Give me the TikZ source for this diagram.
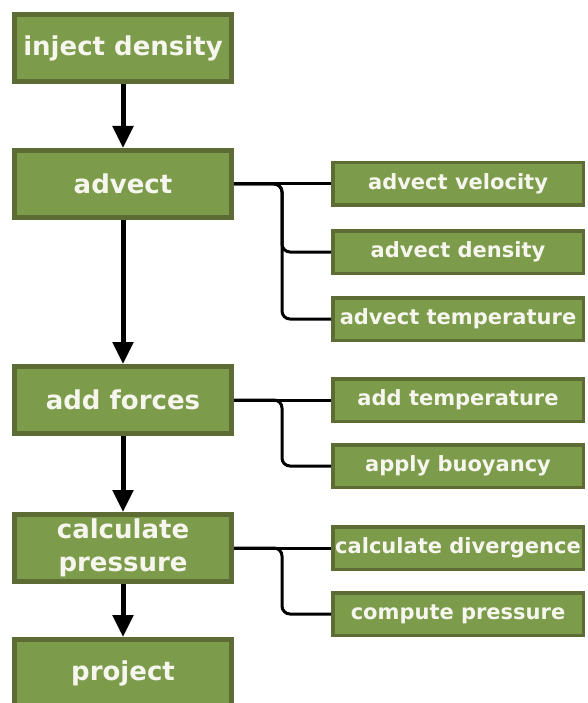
\documentclass[tikz,border=0pt]{standalone}
\usepackage{fontspec}
\setsansfont{DejaVu Sans}
\usetikzlibrary{arrows.meta,positioning}
\definecolor{boxfill}{RGB}{124,156,76}
\definecolor{boxedge}{RGB}{92,108,52}
\definecolor{boxtext}{RGB}{246,246,238}

\begin{document}
\begin{tikzpicture}[x=1pt, y=1pt,
    mainbox/.style={rectangle, draw=boxedge, line width=5pt, fill=boxfill, text=boxtext, minimum width=217pt, minimum height=67pt, align=center, inner sep=0pt, font=\sffamily\bfseries\fontsize{26}{33}\selectfont},
    subbox/.style={rectangle, draw=boxedge, line width=3.5pt, fill=boxfill, text=boxtext, minimum width=250.5pt, minimum height=42.5pt, inner sep=0pt, font=\sffamily\bfseries\fontsize{21}{25}\selectfont},
    flow/.style={-{Triangle[width=20pt,length=22pt]}, line width=5pt},
    link/.style={line width=3pt, rounded corners=8pt}
]
    \useasboundingbox (0,0) rectangle (588,-703);
    \clip (0,0) rectangle (588,-703);

    % ============ Main steps ============
    \node[mainbox] (inject) at (123,-48) {inject density};
    \node[mainbox] (advect) at (123,-184) {advect};
    \node[mainbox] (forces) at (123,-400) {add forces};
    \node[mainbox] (pressure) at (123,-548) {calculate\\pressure};
    \node[mainbox] (project) at (123,-673) {project};

    % ============ Sub steps ============
    \node[subbox] (advvel) at (458,-184) {advect velocity};
    \node[subbox] (advdens) at (458,-252) {advect density};
    \node[subbox] (advtemp) at (458,-319) {advect temperature};
    \node[subbox] (addtemp) at (458,-400) {add temperature};
    \node[subbox] (buoy) at (458,-466) {apply buoyancy};
    \node[subbox] (diverg) at (458,-548) {calculate divergence};
    \node[subbox] (solve) at (458,-614) {compute pressure};

    % ============ Flow ============
    \draw[flow] (inject.south) -- (advect.north);
    \draw[flow] (advect.south) -- (forces.north);
    \draw[flow] (forces.south) -- (pressure.north);
    \draw[flow] (pressure.south) -- (project.north);

    % ============ Sub step links ============
    \coordinate (advfork) at ([xshift=48pt]advect.east);
    \coordinate (forcefork) at ([xshift=48pt]forces.east);
    \coordinate (pressfork) at ([xshift=48pt]pressure.east);

    \draw[link] (advect.east) -- (advvel.west);
    \draw[link] (advect.east) -| (advfork |- advdens.west) -- (advdens.west);
    \draw[link] (advect.east) -| (advfork |- advtemp.west) -- (advtemp.west);

    \draw[link] (forces.east) -- (addtemp.west);
    \draw[link] (forces.east) -| (forcefork |- buoy.west) -- (buoy.west);

    \draw[link] (pressure.east) -- (diverg.west);
    \draw[link] (pressure.east) -| (pressfork |- solve.west) -- (solve.west);

\end{tikzpicture}
\end{document}
